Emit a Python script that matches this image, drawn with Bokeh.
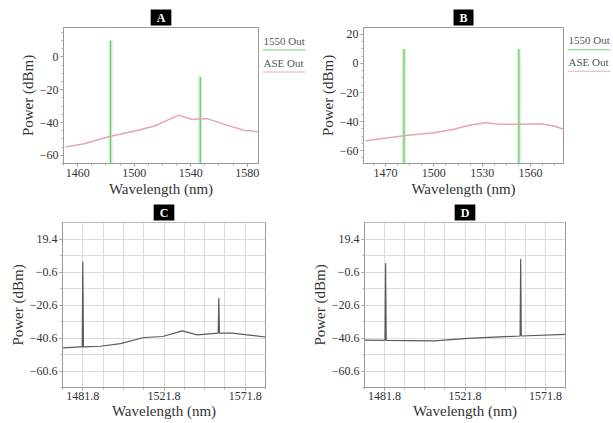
import numpy as np
from bokeh.plotting import figure
from bokeh.layouts import column, row
from bokeh.models import Range1d, FixedTicker, Title, Label, BoxAnnotation
from bokeh.embed import file_html
from bokeh.resources import INLINE

# ---------------- data ----------------
# Panel A
a_ase_wl = [1451.5, 1464.5, 1483.3, 1499.8, 1513.9, 1520.9, 1531.5, 1541.0, 1551.6, 1565.7, 1577.4, 1588.0]
a_ase_dbm = [-54.9, -52.9, -48.4, -45.3, -42.3, -39.6, -35.5, -38.2, -37.6, -41.6, -44.7, -45.7]
a_out_wl = [1483.3, 1546.8]
a_out_dbm = [10.0, -12.0]
a_xticks = [1460, 1500, 1540, 1580]
a_yticks = [-60, -40, -20, 0]

# Panel B
b_ase_wl = [1457.6, 1481.4, 1500.0, 1512.4, 1522.8, 1532.1, 1541.4, 1553.8, 1566.2, 1574.5, 1580.7]
b_ase_dbm = [-53.2, -49.8, -47.6, -45.3, -42.4, -40.8, -41.9, -41.9, -41.5, -43.0, -45.3]
b_out_wl = [1481.4, 1552.8]
b_out_dbm = [10.0, 10.0]
b_xticks = [1470, 1500, 1530, 1560]
b_yticks = [-60, -40, -20, 0, 20]

out_floor_dbm = -75.0

legend_labels = ["1550 Out", "ASE Out"]

# Panel C
c_wl = [1471.8, 1480.7, 1481.5, 1481.8, 1482.1, 1490.5, 1500.4, 1511.9, 1521.2, 1530.8,
        1538.2, 1548.5, 1548.8, 1549.1, 1555.4, 1571.8]
c_dbm = [-46.6, -46.0, -46.0, 5.8, -46.0, -45.6, -44.0, -40.3, -39.7, -36.3,
         -38.7, -37.7, -16.3, -37.7, -37.7, -40.0]

# Panel D
d_wl = [1471.8, 1482.0, 1482.3, 1482.6, 1506.6, 1523.1, 1549.2, 1549.5, 1549.8, 1571.8]
d_dbm = [-41.9, -42.0, 4.7, -42.0, -42.3, -40.8, -39.4, 7.3, -39.4, -38.4]

cd_xticks = [1481.8, 1521.8, 1561.8]
cd_xtick_labels = ["1481.8", "1521.8", "1571.8"]
cd_yticks = [-60.6, -40.6, -20.6, -0.6, 19.4]

# ---------------- style ----------------
SERIF = "Liberation Serif"
GREEN = "#6cc86c"
GREEN_GLOW = "#d6f2d6"
PINK = "#e6a3b3"
DARK = "#5a5a5a"


def base_fig(width, height, xr, yr, borders, title):
    l, r, t, b = borders
    p = figure(width=width, height=height, x_range=Range1d(*xr), y_range=Range1d(*yr),
               output_backend="svg", toolbar_location=None,
               min_border_left=l, min_border_right=r, min_border_top=t, min_border_bottom=b)
    p.title = Title(text=title, align="center", text_color="white", text_font=SERIF,
                    text_font_size="12px", text_font_style="bold",
                    background_fill_color="black", padding=dict(x=6, y=1), standoff=4)
    p.outline_line_color = "#9a9a9a"
    p.background_fill_color = "white"
    p.border_fill_color = "white"
    for ax in (p.xaxis[0], p.yaxis[0]):
        ax.axis_line_color = "#9a9a9a"
        ax.major_tick_line_color = "#888888"
        ax.minor_tick_line_color = "#aaaaaa"
        ax.major_tick_out = 3
        ax.major_tick_in = 0
        ax.minor_tick_out = 2
        ax.minor_tick_in = 0
        ax.major_label_text_font = SERIF
        ax.major_label_text_color = "#333333"
        ax.axis_label_text_font = SERIF
        ax.axis_label_text_font_style = "normal"
        ax.axis_label_text_color = "#333333"
        ax.major_label_standoff = 2
        ax.axis_label_standoff = 1
    p.xaxis.axis_label = "Wavelength (nm)"
    p.yaxis.axis_label = "Power (dBm)"
    return p


def minor_list(ticks, lo, hi, n):
    step = (ticks[1] - ticks[0]) / n
    start = ticks[0] - step * int((ticks[0] - lo) / step)
    return [v for v in np.arange(start, hi + 1e-9, step)]


def top_panel(width, xr, yr, borders, title, xt, yt, ase_wl, ase_dbm, out_wl, out_dbm):
    p = base_fig(width, 200, xr, yr, borders, title)
    p.xaxis.ticker = FixedTicker(ticks=xt, minor_ticks=minor_list(xt, xr[0], xr[1], 4))
    p.yaxis.ticker = FixedTicker(ticks=yt, minor_ticks=minor_list(yt, yr[0], yr[1], 4))
    p.xaxis.major_label_text_font_size = "12px"
    p.yaxis.major_label_text_font_size = "12px"
    p.xaxis.axis_label_text_font_size = "15px"
    p.yaxis.axis_label_text_font_size = "15px"
    p.xgrid.visible = False
    p.ygrid.visible = False
    floors = [out_floor_dbm] * len(out_wl)
    p.segment(x0=out_wl, x1=out_wl, y0=floors, y1=out_dbm, line_color=GREEN_GLOW, line_width=4)
    p.segment(x0=out_wl, x1=out_wl, y0=floors, y1=out_dbm, line_color=GREEN, line_width=1.2)
    p.line(ase_wl, ase_dbm, line_color=PINK, line_width=1.5)
    return p


def legend_fig(width, top, bottom):
    # small side panel holding the legend: label text with a coloured rule beneath
    fh = 200 - top - bottom
    lf = figure(width=width, height=200, x_range=Range1d(0, width), y_range=Range1d(0, fh),
                output_backend="svg", toolbar_location=None,
                min_border_left=0, min_border_right=0,
                min_border_top=top, min_border_bottom=bottom)
    lf.axis.visible = False
    lf.grid.visible = False
    lf.outline_line_color = None
    lf.border_fill_color = "white"
    colors = [GREEN, PINK]
    for i, (lab, c) in enumerate(zip(legend_labels, colors)):
        ty = fh - 13 - 22 * i
        lf.add_layout(Label(x=1, y=ty, text=lab, text_font=SERIF, text_font_size="11px",
                            text_color="#555555", text_baseline="middle"))
        lf.add_layout(BoxAnnotation(left=0, right=43, bottom=ty - 10, top=ty - 9,
                                    fill_color=c, fill_alpha=0.9, line_color=None))
    return lf


def bottom_panel(width, height, borders, title, wl, dbm):
    xr = (1471.8, 1571.8)
    yr = (-70.6, 29.4)
    p = base_fig(width, height, xr, yr, borders, title)
    grid_x = list(np.arange(xr[0], xr[1] + 1e-9, 10.0))
    grid_y = list(np.arange(yr[0], yr[1] + 1e-9, 10.0))
    p.xaxis.ticker = FixedTicker(ticks=cd_xticks, minor_ticks=grid_x)
    p.xaxis.major_label_overrides = {float(t): s for t, s in zip(cd_xticks, cd_xtick_labels)}
    p.yaxis.ticker = FixedTicker(ticks=cd_yticks, minor_ticks=grid_y)
    p.xgrid.ticker = FixedTicker(ticks=grid_x)
    p.ygrid.ticker = FixedTicker(ticks=grid_y)
    p.xgrid.grid_line_color = "#dcdcdc"
    p.ygrid.grid_line_color = "#dcdcdc"
    p.xaxis.major_label_text_font_size = "12px"
    p.yaxis.major_label_text_font_size = "12px"
    p.xaxis.axis_label_text_font_size = "15px"
    p.yaxis.axis_label_text_font_size = "15px"
    p.xaxis.major_label_standoff = 1
    p.xaxis.axis_label_standoff = 0
    p.line(wl, dbm, line_color=DARK, line_width=1.2)
    return p


pA = top_panel(262, (1450.0, 1588.0), (-65.0, 18.0), (63, 4, 27, 37), "A",
               a_xticks, a_yticks, a_ase_wl, a_ase_dbm, a_out_wl, a_out_dbm)
legA = legend_fig(46, 27, 37)
pB = top_panel(259, (1456.3, 1580.5), (-68.8, 24.7), (55, 4, 25, 37), "B",
               b_xticks, b_yticks, b_ase_wl, b_ase_dbm, b_out_wl, b_out_dbm)
legB = legend_fig(45, 25, 37)
pC = bottom_panel(308, 222, (62, 43, 20, 34), "C", c_wl, c_dbm)
pD = bottom_panel(304, 222, (55, 47, 20, 35), "D", d_wl, d_dbm)

layout = column(row(pA, legA, pB, legB), row(pC, pD))
open("out.html", "w").write(file_html(layout, INLINE))
